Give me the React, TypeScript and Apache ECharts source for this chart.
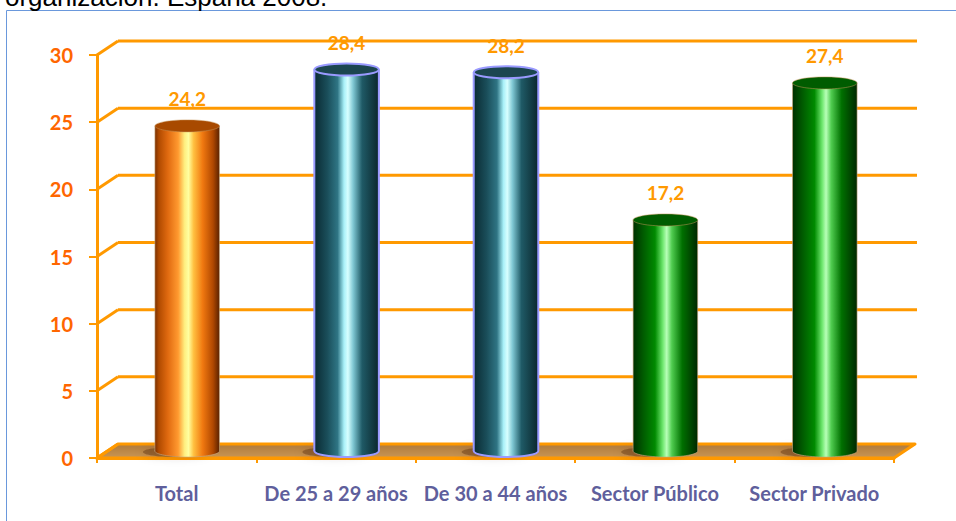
import React, { useEffect, useRef } from "react";
import * as echarts from "echarts";

const categories = ["Total", "De 25 a 29 años", "De 30 a 44 años", "Sector Público", "Sector Privado"];
const values = [24.2, 28.4, 28.2, 17.2, 27.4];
const barKinds = ["orange", "teal", "teal", "green", "green"];
const yTicks = [0, 5, 10, 15, 20, 25, 30];
const titleText = "organización. España 2008.";

const DX = 21;
const DY = -14;

const palettes: Record<string, { body: [number, string][]; top: string; stroke?: string }> = {
  orange: {
    body: [
      [0, "#7a3000"],
      [0.06, "#b04a00"],
      [0.2, "#e06a10"],
      [0.36, "#ff9a30"],
      [0.46, "#ffef80"],
      [0.52, "#ffffa0"],
      [0.6, "#ffc040"],
      [0.74, "#f07810"],
      [0.9, "#b04800"],
      [1, "#5a2200"],
    ],
    top: "#a84a00",
  },
  teal: {
    body: [
      [0, "#0a2a32"],
      [0.2, "#1a4e5a"],
      [0.36, "#2f7584"],
      [0.46, "#a8f0f8"],
      [0.52, "#d8ffff"],
      [0.6, "#80c8d4"],
      [0.74, "#1f5a66"],
      [1, "#0a262c"],
    ],
    top: "#1c4650",
    stroke: "#9a9aff",
  },
  green: {
    body: [
      [0, "#003000"],
      [0.16, "#005c00"],
      [0.34, "#008a00"],
      [0.46, "#70e870"],
      [0.52, "#b8ffb8"],
      [0.6, "#50cc50"],
      [0.76, "#007000"],
      [1, "#002800"],
    ],
    top: "#005c00",
  },
};

function fmt(v: number) {
  return v.toFixed(1).replace(".", ",");
}

export default function App() {
  const ref = useRef<HTMLDivElement>(null);
  useEffect(() => {
    if (!ref.current) return;
    const chart = echarts.init(ref.current, null, { renderer: "svg" });

    const frameRender = (params: any, api: any) => {
      const cs = params.coordSys;
      const left = cs.x;
      const right = cs.x + cs.width;
      const children: any[] = [];
      const y0 = api.coord([0, 0])[1];
      children.push({
        type: "polygon",
        shape: {
          points: [
            [left, y0],
            [left + DX, y0 + DY],
            [right + DX, y0 + DY],
            [right, y0],
          ],
        },
        style: {
          fill: new echarts.graphic.LinearGradient(0, 0, 0, 1, [
            { offset: 0, color: "#b07a3a" },
            { offset: 1, color: "#c89656" },
          ]),
          stroke: "#ff9900",
          lineWidth: 3,
          lineJoin: "round",
        },
      });
      yTicks.forEach((v) => {
        const y = api.coord([0, v])[1];
        children.push({
          type: "line",
          shape: { x1: left, y1: y, x2: left + DX, y2: y + DY },
          style: { stroke: "#ff9900", lineWidth: 3 },
        });
        if (v > 0) {
          children.push({
            type: "line",
            shape: { x1: left + DX, y1: y + DY, x2: right + DX + 2, y2: y + DY },
            style: { stroke: "#ff9900", lineWidth: 3 },
          });
        }
      });
      return { type: "group", children };
    };

    const barRender = (params: any, api: any) => {
      const i = api.value(0);
      const v = api.value(1);
      const [cx0, yb0] = api.coord([i, 0]);
      const yt0 = api.coord([i, v])[1];
      const w = api.size([1, 0])[0] * 0.405;
      const cx = cx0 + DX / 2;
      const yb = yb0 + DY / 2;
      const yt = yt0 + DY / 2;
      const ry = 6;
      const pal = palettes[barKinds[i]];
      const grad = () =>
        new echarts.graphic.LinearGradient(
          0,
          0,
          1,
          0,
          pal.body.map(([o, c]) => ({ offset: o, color: c }))
        );
      const stroke = pal.stroke;
      const edge = stroke || "rgba(200,170,130,0.6)";
      const lw = stroke ? 2 : 1;
      const children: any[] = [];
      children.push({
        type: "ellipse",
        shape: { cx: cx - 12, cy: yb + 1, rx: w / 2, ry: 5 },
        style: { fill: "rgba(70,35,0,0.35)", shadowBlur: 8, shadowColor: "rgba(70,35,0,0.5)" },
      });
      children.push({
        type: "ellipse",
        shape: { cx, cy: yb, rx: w / 2, ry },
        style: { fill: grad(), stroke: edge, lineWidth: lw },
      });
      children.push({
        type: "rect",
        shape: { x: cx - w / 2, y: yt, width: w, height: yb - yt },
        style: { fill: grad() },
      });
      children.push({
        type: "line",
        shape: { x1: cx - w / 2, y1: yt, x2: cx - w / 2, y2: yb },
        style: { stroke: edge, lineWidth: lw },
      });
      children.push({
        type: "line",
        shape: { x1: cx + w / 2, y1: yt, x2: cx + w / 2, y2: yb },
        style: { stroke: edge, lineWidth: lw },
      });
      children.push({
        type: "ellipse",
        shape: { cx, cy: yt, rx: w / 2, ry },
        style: {
          fill: pal.top,
          stroke: stroke || "rgba(200,150,90,0.5)",
          lineWidth: lw,
        },
      });
      children.push({
        type: "text",
        style: {
          text: fmt(v),
          x: cx,
          y: yt - 27,
          align: "center",
          verticalAlign: "middle",
          fill: "#ff9900",
          font: "bold 19px Lato",
        },
      });
      return { type: "group", children };
    };

    chart.setOption({
      animation: false,
      backgroundColor: "#ffffff",
      grid: { left: 97, right: 62, top: 55, bottom: 63, containLabel: false },
      graphic: [
        {
          type: "rect",
          shape: { x: 6.5, y: 10.5, width: 1200, height: 800 },
          style: { fill: "none", stroke: "#6a98dc", lineWidth: 1 },
          z: 0,
        },
        {
          type: "text",
          style: {
            text: titleText,
            x: 5,
            y: -3,
            align: "left",
            verticalAlign: "middle",
            fill: "#000000",
            font: "26px 'Liberation Sans', Arial, sans-serif",
          },
        },
      ],
      xAxis: {
        type: "category",
        data: categories,
        boundaryGap: true,
        axisLine: { show: true, lineStyle: { color: "#ff9900", width: 3 } },
        axisTick: { show: true, length: 5, lineStyle: { color: "#ff9900", width: 2 }, interval: 0 },
        axisLabel: {
          interval: 0,
          margin: 25,
          color: "#5f5f9c",
          fontFamily: "Lato",
          fontWeight: "bold",
          fontSize: 20,
        },
        splitLine: { show: false },
      },
      yAxis: {
        type: "value",
        min: 0,
        max: 30,
        interval: 5,
        axisLine: { show: true, lineStyle: { color: "#ff9900", width: 3 } },
        axisTick: { show: true, length: 8, lineStyle: { color: "#ff9900", width: 2 } },
        axisLabel: {
          margin: 24,
          color: "#ff6600",
          fontFamily: "Lato",
          fontWeight: "bold",
          fontSize: 20,
        },
        splitLine: { show: false },
      },
      series: [
        {
          type: "custom",
          renderItem: frameRender,
          data: [[0, 0]],
          z: 1,
          silent: true,
          clip: false,
        },
        {
          type: "custom",
          renderItem: barRender,
          data: values.map((v, i) => [i, v]),
          z: 3,
          silent: true,
          clip: false,
        },
      ],
    });
    return () => chart.dispose();
  }, []);
  return (
    <div
      ref={ref}
      style={{ position: "fixed", left: 0, top: 0, width: 956, height: 521 }}
    />
  );
}
